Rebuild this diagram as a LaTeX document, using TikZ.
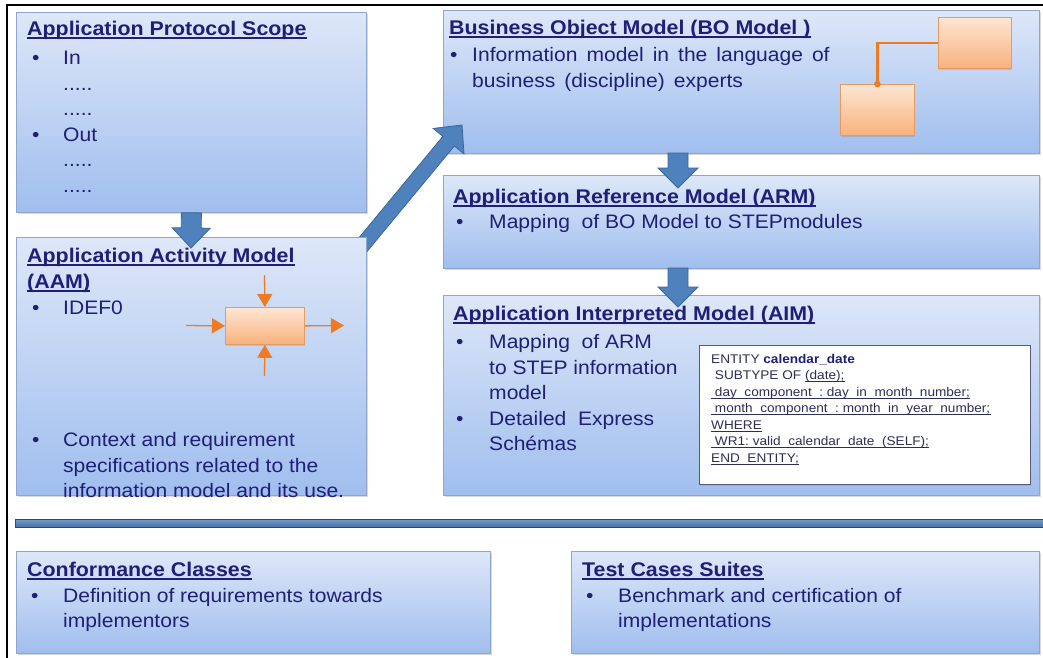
\documentclass[tikz,border=0pt]{standalone}
\usepackage{fontspec}
\setmainfont{Liberation Sans}[FakeStretch=1.08]
\usetikzlibrary{calc,shadows,arrows.meta}
\definecolor{navytxt}{HTML}{1F1F78}
\definecolor{codetxt}{HTML}{2E2E55}
\definecolor{boxtop}{HTML}{DDE7F8}
\definecolor{boxbot}{HTML}{A0BEEE}
\definecolor{boxline}{HTML}{8FA5C9}
\definecolor{arrfill}{HTML}{4F81BD}
\definecolor{arrline}{HTML}{3A679C}
\definecolor{otop}{HTML}{FDE6D3}
\definecolor{obot}{HTML}{F8B17C}
\definecolor{oline}{HTML}{E59A62}
\definecolor{ostroke}{HTML}{F07A22}
\newcommand{\blockarrow}[5]{%
  \coordinate (ba-b) at ($(#2)!#4!(#1)$);
  \draw[blockarr] ($(#1)!#3!90:(#2)$) -- ($(ba-b)!#3!90:(#2)$) -- ($(ba-b)!#5!90:(#2)$) -- (#2)
    -- ($(ba-b)!#5!-90:(#2)$) -- ($(ba-b)!#3!-90:(#2)$) -- ($(#1)!#3!-90:(#2)$) -- cycle;}
\tikzset{
  panel/.style={draw=boxline, line width=0.8pt, top color=boxtop, bottom color=boxbot,
    inner sep=0pt, anchor=north west,
    drop shadow={shadow xshift=1.2pt, shadow yshift=-2pt, opacity=0.3}},
  obox/.style={draw=oline, line width=0.8pt, top color=otop, bottom color=obot,
    inner sep=0pt, anchor=north west,
    drop shadow={shadow xshift=1pt, shadow yshift=-1.5pt, opacity=0.25}},
  blockarr/.style={fill=arrfill, draw=arrline, line width=0.8pt, line join=miter},
  owire/.style={draw=ostroke, line width=2.2pt},
  oarr/.style={draw=ostroke, line width=1.3pt, -{Triangle[length=13pt,width=15pt]}},
  txt/.style={inner sep=0pt, anchor=base west, text=navytxt, font=\fontsize{19.5}{22}\selectfont},
  ttl/.style={inner sep=0pt, anchor=base west, text=navytxt, font=\bfseries\fontsize{19.8}{22}\selectfont,
    append after command={($(\tikzlastnode.base west)+(0,3)$) edge[draw=navytxt, line width=1.4pt]
      ($(\tikzlastnode.base east)+(0,3)$)}},
  code/.style={inner sep=0pt, anchor=base west, text=codetxt, font=\fontsize{12.6}{15}\selectfont},
  ulcode/.style={code, append after command={($(\tikzlastnode.base west)+(0,2.2)$) edge[draw=codetxt, line width=0.7pt]
      ($(\tikzlastnode.base east)+(0,2.2)$)}},
}
\begin{document}
\begin{tikzpicture}[x=1pt,y=-1pt]
\useasboundingbox (0,0) rectangle (1043,657);
% frame
\draw[black, line width=2.2pt] (7,660) -- (7,5) -- (1046,5);

% BO box
\node[panel, minimum width=596pt, minimum height=143pt] (bo) at (443,10) {};
\node[obox, minimum width=73pt, minimum height=51pt] (ob1) at (938,17) {};
\node[obox, minimum width=74pt, minimum height=51pt] (ob2) at (840,84) {};
\draw[owire] (ob2.north) |- (ob1.west);
\fill[ostroke] (ob2.north) circle (3.3pt);
\node[ttl] (boT) at (449,34) {Business Object Model (BO Model )};
\node[txt] (boB) at (450,61) {•};
\node[txt] (bo1) at (472,61) {\spaceskip=0.46em Information model in the language of};
\node[txt] (bo2) at (472,87) {\spaceskip=0.46em business (discipline) experts};

% diagonal arrow AAM -> BO
\coordinate (dgs) at (361,247);
\coordinate (dge) at (462,125);
\blockarrow{dgs}{dge}{7.5pt}{21pt}{20pt}

% APS box
\node[panel, minimum width=350pt, minimum height=200pt] (aps) at (16,12) {};
\node[ttl] (apsT) at (27,35) {Application Protocol Scope};
\node[txt] (apsB1) at (32,64) {•};
\node[txt] (apsIn) at (63,64) {In};
\node[txt] (apsD1) at (63,90) {.....};
\node[txt] (apsD2) at (63,115) {.....};
\node[txt] (apsB2) at (32,141) {•};
\node[txt] (apsOut) at (63,141) {Out};
\node[txt] (apsD3) at (63,166) {.....};
\node[txt] (apsD4) at (63,192) {.....};

% AAM box
\node[panel, minimum width=350pt, minimum height=258pt] (aam) at (16,237) {};
\node[ttl] (aamT1) at (27,262) {Application Activity Model};
\node[ttl] (aamT2) at (27,288) {(AAM)};
\node[txt] (aamB1) at (32,314) {•};
\node[txt] (aam1) at (63,314) {IDEF0};
\node[txt] (aamB2) at (32,446) {•};
\node[txt] (aam2) at (63,446) {Context and requirement};
\node[txt] (aam3) at (63,472) {specifications related to the};
\node[txt] (aam4) at (63,497) {information model and its use.};
% IDEF0 glyph
\node[obox, minimum width=79pt, minimum height=37pt] (idef) at (225,307) {};
\coordinate (iin) at (186,325.5);
\coordinate (iout) at (344,325.5);
\coordinate (ictl) at (264.5,275);
\coordinate (imech) at (264.5,376);
\draw[oarr] (iin) -- (idef.west);
\draw[oarr] (idef.east) -- (iout);
\draw[oarr] (ictl) -- (idef.north);
\draw[oarr] (imech) -- (idef.south);

% arrow APS -> AAM
\coordinate (d1e) at (191,248);
\blockarrow{aps.south}{d1e}{10pt}{20pt}{19pt}

% ARM box
\node[panel, minimum width=596pt, minimum height=93pt] (arm) at (443,175) {};
\node[ttl] (armT) at (453,203) {Application Reference Model (ARM)};
\node[txt] (armB) at (456,228) {•};
\node[txt] (arm1) at (489,228) {Mapping\ \ of BO Model to STEPmodules};
\coordinate (d2s) at (678,153);
\coordinate (d2e) at (678,188);
\blockarrow{d2s}{d2e}{10pt}{20pt}{20pt}

% AIM box
\node[panel, minimum width=596pt, minimum height=200pt] (aim) at (443,295) {};
\node[ttl] (aimT) at (453,320) {Application Interpreted Model (AIM)};
\node[txt] (aimB1) at (456,348) {•};
\node[txt] (aim1) at (489,348) {Mapping\ \ of ARM};
\node[txt] (aim2) at (489,374) {to STEP information};
\node[txt] (aim3) at (489,399) {model};
\node[txt] (aimB2) at (456,425) {•};
\node[txt] (aim4) at (489,425) {Detailed\ \ Express};
\node[txt] (aim5) at (489,450) {Schémas};
\coordinate (d3s) at (678,268);
\coordinate (d3e) at (678,307);
\blockarrow{d3s}{d3e}{10pt}{20pt}{20pt}

% code box
\node[draw=codetxt!80, fill=white, line width=0.8pt, inner sep=0pt, anchor=north west,
  minimum width=331pt, minimum height=139pt,
  drop shadow={shadow xshift=1pt, shadow yshift=-1.5pt, opacity=0.25}] (codebox) at (699,345) {};
\node[code] (c1) at (711,363) {ENTITY \textbf{\textcolor{navytxt}{calendar\_date}}};
\node[code] (c2a) at (711,379) {\ SUBTYPE OF};
\node[ulcode, xshift=3.5pt] (c2b) at (c2a.base east) {(date);};
\node[ulcode] (c3) at (711,396) {\ day\ \ component\ \ :\ day\ \ in\ \ month\ \ number;};
\node[ulcode] (c4) at (711,412) {\ month\ \ component\ \ :\ month\ \ in\ \ year\ \ number;};
\node[ulcode] (c5) at (711,429) {WHERE};
\node[ulcode] (c6) at (711,445) {\ WR1:\ valid\ \ calendar\ \ date\ \ (SELF);};
\node[ulcode] (c7) at (711,462) {END\ \ ENTITY;};

% separator bar
\node[draw=arrline!70!black, line width=1pt, top color=arrfill!80!white, bottom color=arrfill!85!black,
  inner sep=0pt, anchor=north west, minimum width=1040pt, minimum height=8pt] (bar) at (15,519) {};

% bottom boxes
\node[panel, minimum width=474pt, minimum height=102pt] (conf) at (16,551) {};
\node[ttl] (confT) at (27,576) {Conformance Classes};
\node[txt] (confB) at (31,602) {•};
\node[txt] (conf1) at (63,602) {Definition of requirements towards};
\node[txt] (conf2) at (63,627) {implementors};

\node[panel, minimum width=468pt, minimum height=102pt] (test) at (571,551) {};
\node[ttl] (testT) at (582,576) {Test Cases Suites};
\node[txt] (testB) at (586,602) {•};
\node[txt] (test1) at (618,602) {Benchmark and certification of};
\node[txt] (test2) at (618,627) {implementations};
\end{tikzpicture}
\end{document}
